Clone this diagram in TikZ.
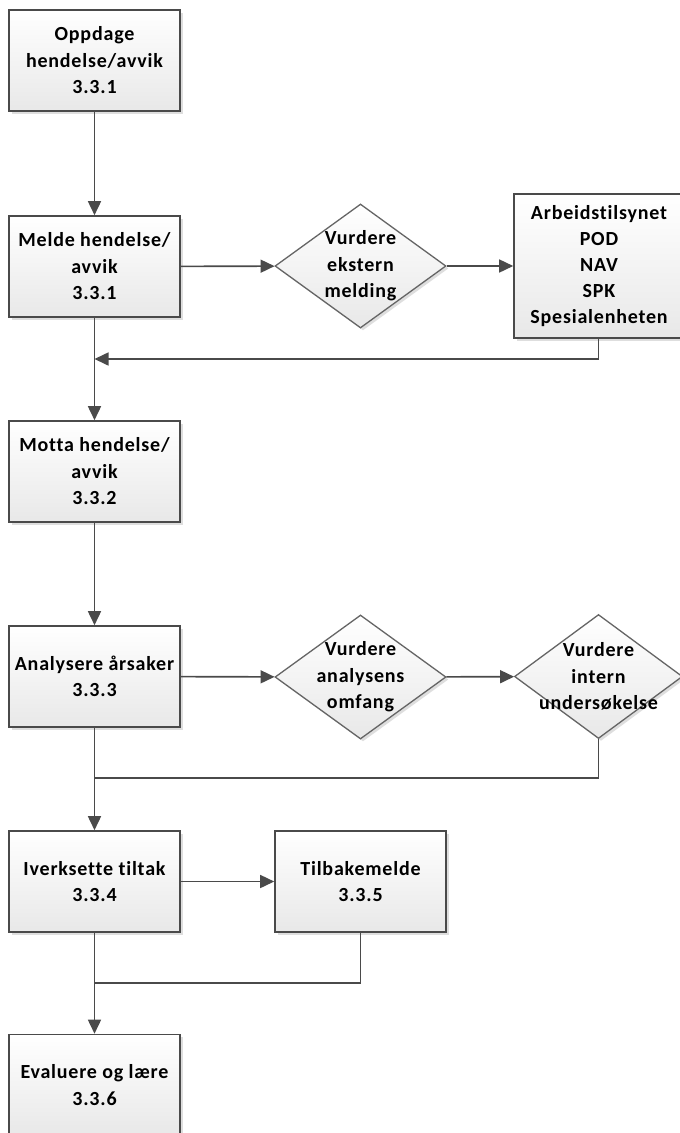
\documentclass[tikz,border=0pt]{standalone}
\usepackage{fontspec}
\setmainfont{Carlito}[Ligatures=NoCommon,LetterSpace=4]
\usetikzlibrary{shapes.geometric,arrows.meta,shadows}
\definecolor{edge}{HTML}{4A4A4A}
\definecolor{wire}{HTML}{4A4A4A}
\begin{document}
\begin{tikzpicture}[x=1pt,y=-1pt,
  txt/.style={align=center,font=\bfseries\fontsize{20}{26.5}\selectfont,inner sep=0pt},
  proc/.style={txt,draw=edge,line width=1.6pt,minimum width=171pt,minimum height=101pt,
    shading=axis,top color=white,bottom color=black!9,
    drop shadow={shadow xshift=2.5pt,shadow yshift=-2.5pt,fill=black!25,opacity=0.5}},
  dia/.style={diamond,draw=edge!85,line width=1.3pt,minimum width=171pt,minimum height=124pt,inner sep=0pt,
    shading=axis,top color=white,bottom color=black!9,
    drop shadow={shadow xshift=2.5pt,shadow yshift=-2.5pt,fill=black!25,opacity=0.5}},
  flow/.style={draw=wire,line width=1.6pt},
  arr/.style={flow,-{Triangle[length=14pt,width=13pt]}}]
\useasboundingbox (0,0) rectangle (680,1133);
\fill[white] (0,0) rectangle (680,1133);
\begin{scope}
\clip (0,0) rectangle (680,1133);
% main column of steps
\node[proc] (s1) at (94.5,60.5) {Oppdage\\hendelse/avvik\\3.3.1};
\node[proc] (s2) at (94.5,266.5) {Melde hendelse/\\avvik\\3.3.1};
\node[proc] (s3) at (94.5,471.5) {Motta hendelse/\\avvik\\3.3.2};
\node[proc] (s4) at (94.5,676.5) {Analysere årsaker\\3.3.3};
\node[proc] (s5) at (94.5,881.5) {Iverksette tiltak\\3.3.4};
\node[proc] (s6) at (94.5,1085) {Evaluere og lære\\3.3.6};
% side branches
\node[dia,label={[txt]center:Vurdere\\ekstern\\melding}] (d1) at (360.5,266) {};
\node[proc,minimum width=170pt,minimum height=144pt,font=\bfseries\fontsize{20}{26}\selectfont] (ext) at (599,266) {Arbeidstilsynet\\POD\\NAV\\SPK\\Spesialenheten};
\node[dia,label={[txt]center:Vurdere\\analysens\\omfang}] (d2) at (360.5,677) {};
\node[dia,minimum width=168pt,label={[txt]center:Vurdere\\intern\\undersøkelse}] (d3) at (598.5,676.5) {};
\node[proc] (s7) at (360.5,881.5) {Tilbakemelde\\3.3.5};
\end{scope}
% junction points on the main column
\coordinate (j1) at (s2.south |- 0,359);
\coordinate (j2) at (s4.south |- 0,778);
\coordinate (j3) at (s5.south |- 0,983);
% connectors
\draw[arr] (s1) -- (s2);
\draw[arr] (s2) -- (d1);
\draw[arr] (d1) -- (ext.west |- d1);
\draw[arr] (s2) -- (s3);
\draw[arr] (ext.south -| d3.south) -- (j1 -| d3.south) -- (j1);
\draw[arr] (s3) -- (s4);
\draw[arr] (s4) -- (d2);
\draw[arr] (d2) -- (d3);
\draw[arr] (s4) -- (s5);
\draw[flow] (d3.south) -- (j2 -| d3.south) -- (j2);
\draw[arr] (s5) -- (s7);
\draw[arr] (s5) -- (s6);
\draw[flow] (s7.south) -- (j3 -| s7.south) -- (j3);
\end{tikzpicture}
\end{document}
